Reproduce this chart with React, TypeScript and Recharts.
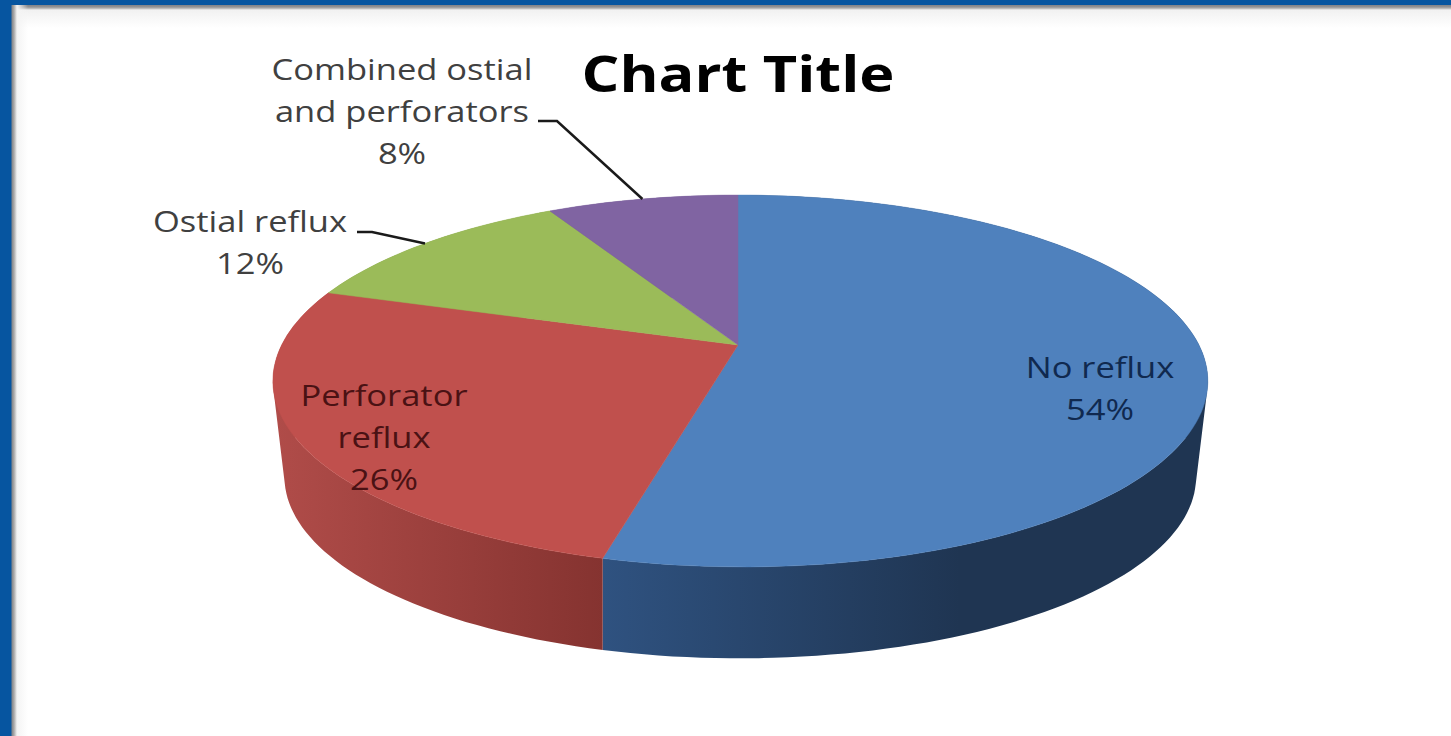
import React from 'react';
import { PieChart, Pie } from 'recharts';

const categories = ['No reflux', 'Perforator reflux', 'Ostial reflux', 'Combined ostial and perforators'];
const shares = [54, 26, 12, 8];
const topColors = ['#4f81bd', '#c0504d', '#9bbb59', '#8064a2'];
const wallColors = ['url(#wallBlue)', 'url(#wallRed)', '#7d9647', '#665083'];

// wrapped label lines for each slice
const labelLines = [['No reflux'], ['Perforator', 'reflux'], ['Ostial reflux'], ['Combined ostial', 'and perforators']];
const labelColors = ['#10294f', '#4a1214', '#404040', '#404040'];
const labelAnchors = [
  { x: 1100, y: 378 },
  { x: 384, y: 406 },
  { x: 250, y: 232 },
  { x: 402, y: 80 },
];
// leader start and elbow, only the two outer labels have one
const leaderStarts: ({ x: number; y: number; elbow: number } | null)[] = [
  null,
  null,
  { x: 357, y: 232, elbow: 372 },
  { x: 538, y: 121, elbow: 557 },
];

const W = 1451;
const H = 736;
const CX = 738;
const CY = 345;
const R = 460;
const TILT = 0.389; // vertical squash of the disc
const PERSPECTIVE = 0.1935; // near edge is drawn larger than the far edge
const LEFT_SCALE = 0.992;
const RIGHT_SCALE = 1.002;
const TOP_NEAR_SHIFT = 5; // front of the disc leans slightly to the right
const WALL_NEAR_SHIFT = 1;
const WALL_SCALE = 0.975;
const WALL_DROP = 97;
const LINE_HEIGHT = 42;
const TEXT_STRETCH = 1.15;
const TITLE_STRETCH = 1.19;

type Pt = { x: number; y: number };

const tableData = categories.map((name, i) => ({ name, value: shares[i] }));
const topData = tableData.map((d, i) => ({ ...d, fill: topColors[i] }));
const wallData = tableData.map((d, i) => ({ ...d, fill: wallColors[i] }));

// project an angle on the disc rim to the screen
const rimPoint = (deg: number, scale = 1, drop = 0, nearShift = TOP_NEAR_SHIFT): Pt => {
  const rad = (deg * Math.PI) / 180;
  const u = Math.cos(rad);
  const v = -Math.sin(rad);
  const d = 1 - PERSPECTIVE * v;
  const side = u < 0 ? LEFT_SCALE : RIGHT_SCALE;
  return {
    x: CX + (R * scale * side * u) / d + nearShift * Math.pow(Math.max(v, 0), 4),
    y: CY + drop + (R * scale * TILT * v) / d,
  };
};

const stepAngles = (from: number, to: number) => {
  const steps = Math.max(2, Math.ceil(Math.abs(to - from) / 1.5));
  const angles = [];
  for (let i = 0; i <= steps; i++) angles.push(from + ((to - from) * i) / steps);
  return angles;
};

const pt = (p: Pt) => `${p.x.toFixed(1)} ${p.y.toFixed(1)}`;

const signedArea = (poly: Pt[]) =>
  poly.reduce((sum, p, i) => {
    const q = poly[(i + 1) % poly.length];
    return sum + p.x * q.y - q.x * p.y;
  }, 0);

const TopSlice = (props: any) => {
  const arc = stepAngles(props.startAngle, props.endAngle).map((a) => pt(rimPoint(a)));
  return <path d={`M${CX} ${CY} L${arc.join(' L')} Z`} fill={props.fill} stroke={props.fill} strokeWidth={0.5} />;
};

// one quad per step, all wound the same way, so the path fills the hull
// between the upper and lower rim without holes
const WallSlice = (props: any) => {
  const angles = stepAngles(props.startAngle, props.endAngle);
  const lower = (a: number) => rimPoint(a, WALL_SCALE, WALL_DROP, WALL_NEAR_SHIFT);
  const quads = angles.slice(1).map((a, i) => {
    const prev = angles[i];
    const quad = [rimPoint(prev), rimPoint(a), lower(a), lower(prev)];
    const ordered = signedArea(quad) < 0 ? [...quad].reverse() : quad;
    return `M${ordered.map(pt).join(' L')} Z`;
  });
  return <path d={quads.join(' ')} fill={props.fill} stroke="none" />;
};

const SliceLabel = (props: any) => {
  const i = props.index;
  const anchor = labelAnchors[i];
  const lines = [...labelLines[i], `${shares[i]}%`];
  const leader = leaderStarts[i];
  const end = rimPoint(props.midAngle);
  return (
    <g>
      {leader && (
        <polyline
          points={`${leader.x},${leader.y} ${leader.elbow},${leader.y} ${end.x},${end.y}`}
          fill="none"
          stroke="#1a1a1a"
          strokeWidth={2.5}
        />
      )}
      {lines.map((line, n) => (
        <text
          key={line}
          transform={`translate(${anchor.x} ${anchor.y + n * LINE_HEIGHT}) scale(${TEXT_STRETCH} 1)`}
          textAnchor="middle"
          fontFamily="Open Sans"
          fontSize={30}
          fill={labelColors[i]}
        >
          {line}
        </text>
      ))}
    </g>
  );
};

export default function App() {
  return (
    <div style={{ position: 'absolute', left: 0, top: 0, width: W, height: H, background: '#fff', overflow: 'hidden' }}>
      <PieChart width={W} height={H} margin={{ top: 0, right: 0, bottom: 0, left: 0 }}>
        <defs>
          <linearGradient id="wallBlue" gradientUnits="userSpaceOnUse" x1={603} y1={0} x2={960} y2={0}>
            <stop offset="0%" stopColor="#2f5280" />
            <stop offset="100%" stopColor="#1f3552" />
          </linearGradient>
          <linearGradient id="wallRed" gradientUnits="userSpaceOnUse" x1={275} y1={0} x2={603} y2={0}>
            <stop offset="0%" stopColor="#b04c49" />
            <stop offset="100%" stopColor="#853330" />
          </linearGradient>
        </defs>
        <Pie
          data={wallData}
          dataKey="value"
          nameKey="name"
          cx={CX}
          cy={CY}
          outerRadius={R}
          startAngle={90}
          endAngle={-270}
          isAnimationActive={false}
          shape={WallSlice}
          stroke="none"
        />
        <Pie
          data={topData}
          dataKey="value"
          nameKey="name"
          cx={CX}
          cy={CY}
          outerRadius={R}
          startAngle={90}
          endAngle={-270}
          isAnimationActive={false}
          shape={TopSlice}
          stroke="none"
          label={SliceLabel}
          labelLine={false}
        />
        <text
          transform={`translate(738 92) scale(${TITLE_STRETCH} 1)`}
          textAnchor="middle"
          fontFamily="Open Sans"
          fontWeight={700}
          fontSize={50}
          fill="#000"
        >
          Chart Title
        </text>
      </PieChart>
      {/* slide frame along the top and left */}
      <div style={{ position: 'absolute', left: 0, top: 5, width: W, height: 23, background: 'linear-gradient(#85868a 1px, #a9a9a9 3px, #f1f1f1 5px, #fff 23px)' }} />
      <div style={{ position: 'absolute', left: 0, top: 5, width: 28, height: H, background: 'linear-gradient(90deg, #0655a0 0 11px, #85868a 12px, #a9a9a9 14px, #f4f4f4 17px, rgba(255,255,255,0) 28px)' }} />
      <div style={{ position: 'absolute', left: 0, top: 0, width: W, height: 5, background: '#0655a0' }} />
    </div>
  );
}
